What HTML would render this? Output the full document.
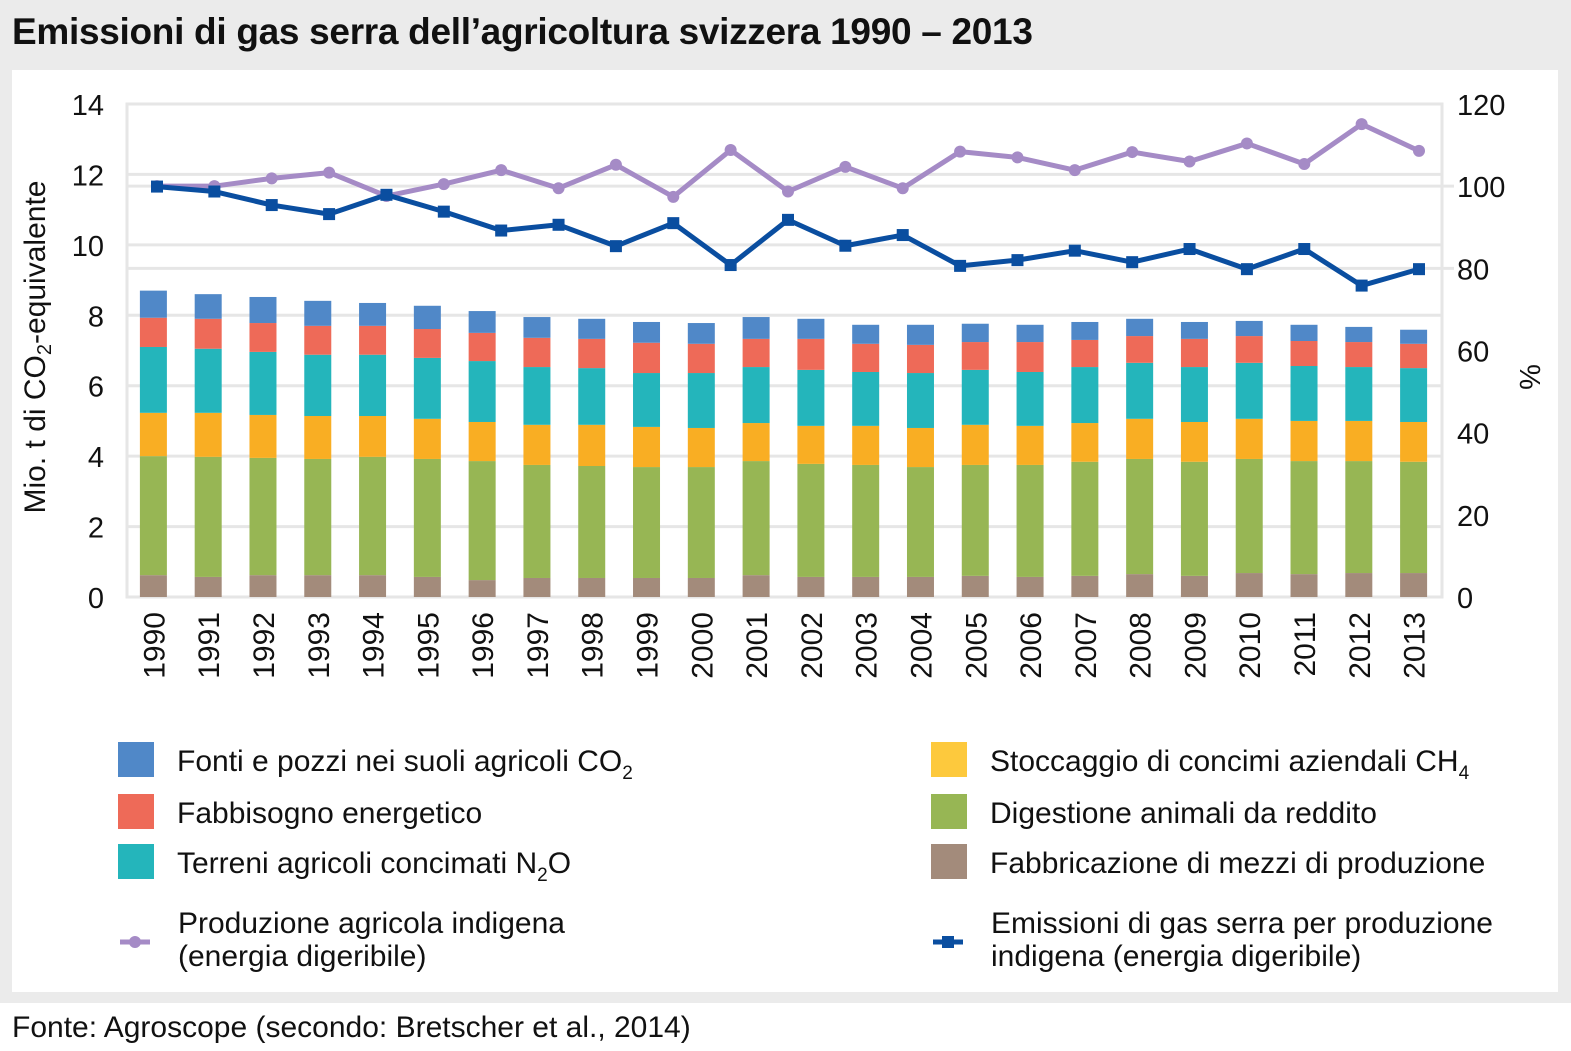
<!DOCTYPE html>
<html><head><meta charset="utf-8">
<style>
html,body{margin:0;padding:0;background:#fff;}
body{width:1571px;height:1051px;position:relative;overflow:hidden;font-family:"Liberation Sans Narrow","Liberation Sans",sans-serif;}
#top{position:absolute;left:0;top:0;width:1571px;height:1003px;background:#ebebeb;}
#panel{position:absolute;left:12px;top:70px;width:1546px;height:922px;background:#fff;}
#title{position:absolute;left:12px;top:11px;font-size:37px;font-weight:bold;color:#111;letter-spacing:-0.3px;}
#source{position:absolute;left:12px;top:1011px;font-size:30px;color:#111;}
svg{position:absolute;left:0;top:0;}
.lt{font-size:30px;fill:#111;}
</style></head><body>
<div id="top"></div>
<div id="panel"></div>
<div id="title">Emissioni di gas serra dell’agricoltura svizzera 1990 – 2013</div>
<div id="source">Fonte: Agroscope (secondo: Bretscher et al., 2014)</div>
<svg id="chart" width="1571" height="1051"></svg>
<script>
const years=["1990","1991","1992","1993","1994","1995","1996","1997","1998","1999","2000","2001","2002","2003","2004","2005","2006","2007","2008","2009","2010","2011","2012","2013"];
const fabbricazione=[0.62,0.57,0.62,0.62,0.62,0.57,0.48,0.54,0.54,0.54,0.54,0.62,0.57,0.57,0.57,0.60,0.57,0.60,0.65,0.60,0.68,0.65,0.68,0.68];
const digestione=[3.38,3.41,3.33,3.30,3.36,3.35,3.38,3.21,3.18,3.15,3.15,3.24,3.21,3.18,3.12,3.15,3.18,3.24,3.27,3.24,3.24,3.21,3.18,3.16];
const stoccaggio=[1.23,1.25,1.22,1.22,1.16,1.14,1.11,1.14,1.17,1.14,1.11,1.08,1.08,1.11,1.11,1.14,1.11,1.10,1.14,1.13,1.14,1.14,1.14,1.13];
const terreni=[1.87,1.82,1.79,1.74,1.74,1.73,1.73,1.64,1.61,1.53,1.56,1.59,1.59,1.53,1.56,1.56,1.53,1.59,1.59,1.56,1.59,1.56,1.53,1.53];
const fabbisogno=[0.83,0.85,0.82,0.82,0.82,0.82,0.80,0.83,0.83,0.86,0.83,0.80,0.88,0.80,0.80,0.79,0.85,0.77,0.76,0.80,0.76,0.71,0.71,0.69];
const fonti=[0.77,0.70,0.74,0.71,0.65,0.66,0.62,0.59,0.57,0.59,0.59,0.62,0.57,0.54,0.57,0.52,0.49,0.51,0.49,0.48,0.43,0.46,0.43,0.40];
const produzionePct=[100,100,101.9,103.3,97.6,100.5,103.9,99.5,105.2,97.4,108.8,98.7,104.7,99.5,108.4,107.0,103.9,108.3,106.0,110.4,105.4,115.1,108.6];
const emissioniPct=[99.9,98.7,95.4,93.2,97.9,93.8,89.2,90.6,85.4,91.0,80.8,91.8,85.5,88.1,80.6,82.0,84.3,81.5,84.7,79.8,84.7,75.8,79.8];
const leftTicks=[0,2,4,6,8,10,12,14];
const rightTicks=[0,20,40,60,80,100,120];

const NS="http://www.w3.org/2000/svg";
const svg=document.getElementById('chart');
const X0=127,X1=1442,Y0=597,Y1=104;
const yL=v=>Y0-(v/14)*(Y0-Y1);
const yR=v=>Y0-(v/120)*(Y0-Y1);
const band=(X1-X0)/years.length;
const xB=i=>X0+band*(i+0.5)-1;
const xLine=i=>157+i*(1419-157)/(produzionePct.length-1);
function mk(t,a,p){const e=document.createElementNS(NS,t);for(const k in a)e.setAttribute(k,a[k]);(p||svg).appendChild(e);return e;}

const frame=mk('rect',{x:X0,y:Y1,width:X1-X0,height:Y0-Y1,fill:'none',stroke:'#e6e6e6','stroke-width':3});


leftTicks.forEach(t=>{
  if(t>0&&t<14){const g=mk('line',{x1:X0,x2:X1,y1:yL(t),y2:yL(t),stroke:'#e6e6e6','stroke-width':3});
  
  }
  const l=mk('text',{x:104,y:yL(t)+11,'text-anchor':'end','font-size':29,fill:'#111'});l.textContent=t;
  
  
});
[80,100].forEach(t=>{const g=mk('line',{x1:X0,x2:X1+12,y1:yR(t),y2:yR(t),stroke:'#e6e6e6','stroke-width':3});
  
  });
rightTicks.forEach(t=>{
  const l=mk('text',{x:1457,y:yR(t)+11,'font-size':29,fill:'#111'});l.textContent=t;
  
  
});
mk('line',{x1:X0,x2:X0,y1:Y1,y2:Y0,stroke:'#e6e6e6','stroke-width':3});
mk('line',{x1:X0,x2:X1,y1:Y0,y2:Y0,stroke:'#e6e6e6','stroke-width':3});

const series=[[fabbricazione,'#a38b7b','fabbricazione'],[digestione,'#97b654','digestione'],[stoccaggio,'#f9ae23','stoccaggio'],[terreni,'#24b5bb','terreni'],[fabbisogno,'#ee6a58','fabbisogno'],[fonti,'#5088c8','fonti']];
years.forEach((yr,i)=>{
  let acc=0;
  series.forEach(s=>{
    const v=s[0][i];
    const r=mk('rect',{x:xB(i)-13.5,y:yL(acc+v),width:27,height:yL(acc)-yL(acc+v),fill:s[1]});
    
    
    acc+=v;
  });
  const t=mk('text',{x:0,y:0,'text-anchor':'end','font-size':30,fill:'#111',transform:`translate(${xB(i)+11},612) rotate(-90)`});
  t.textContent=yr;
  
  
});

function line(vals,color,name,square){
  const pts=vals.map((v,i)=>xLine(i)+','+yR(v)).join(' ');
  const pl=mk('polyline',{points:pts,fill:'none',stroke:color,'stroke-width':5,'stroke-linejoin':'round'});
  
  
  vals.forEach((v,i)=>{
    const m=square?mk('rect',{x:xLine(i)-6,y:yR(v)-6,width:12,height:12,fill:color}):mk('circle',{cx:xLine(i),cy:yR(v),r:6,fill:color});
    
    
  });
}
line(produzionePct,'#a58bc6','produzione',false);
line(emissioniPct,'#0a4ea0','emissioni',true);

const yt=mk('text',{x:0,y:0,'text-anchor':'middle','font-size':30,fill:'#111',transform:'translate(45,347) rotate(-90)'});
yt.innerHTML='Mio. t di CO<tspan font-size="20" dy="6">2</tspan><tspan dy="-6">-equivalente</tspan>';


const y2=mk('text',{x:0,y:0,'text-anchor':'middle','font-size':29,fill:'#111',transform:'translate(1540,377) rotate(-90)'});
y2.textContent='%';



const leg=[
 [118,742,'#5088c8','Fonti e pozzi nei suoli agricoli CO','2','legend-fonti'],
 [118,794,'#ee6a58','Fabbisogno energetico','','legend-fabbisogno'],
 [118,844,'#24b5bb','Terreni agricoli concimati N','2O','legend-terreni'],
 [931,742,'#fdc93d','Stoccaggio di concimi aziendali CH','4','legend-stoccaggio'],
 [931,794,'#97b654','Digestione animali da reddito','','legend-digestione'],
 [931,844,'#a38b7b','Fabbricazione di mezzi di produzione','','legend-fabbricazione']];
leg.forEach(l=>{
  const g=mk('g',{});
  
  
  mk('rect',{x:l[0],y:l[1],width:36,height:35,fill:l[2]},g);
  const t=mk('text',{x:l[0]+59,y:l[1]+29,class:'lt'},g);
  if(l[4]==='2O') t.innerHTML=l[3]+'<tspan font-size="19" dy="8">2</tspan><tspan dy="-8">O</tspan>';
  else if(l[4]) t.innerHTML=l[3]+'<tspan font-size="19" dy="8">'+l[4]+'</tspan>';
  else t.textContent=l[3];
});
function lineLeg(x,color,sq,a,b,name){
  const g=mk('g',{});
  
  
  mk('line',{x1:x,x2:x+30,y1:942,y2:942,stroke:color,'stroke-width':5},g);
  if(sq) mk('rect',{x:x+9,y:936,width:12,height:12,fill:color},g); else mk('circle',{cx:x+15,cy:942,r:6,fill:color},g);
  const t1=mk('text',{x:x+58,y:933,class:'lt'},g);t1.textContent=a;
  const t2=mk('text',{x:x+58,y:966,class:'lt'},g);t2.textContent=b;
}
lineLeg(120,'#a58bc6',false,'Produzione agricola indigena','(energia digeribile)','legend-produzione');
lineLeg(933,'#0a4ea0',true,'Emissioni di gas serra per produzione','indigena (energia digeribile)','legend-emissioni');
</script>
</body></html>
